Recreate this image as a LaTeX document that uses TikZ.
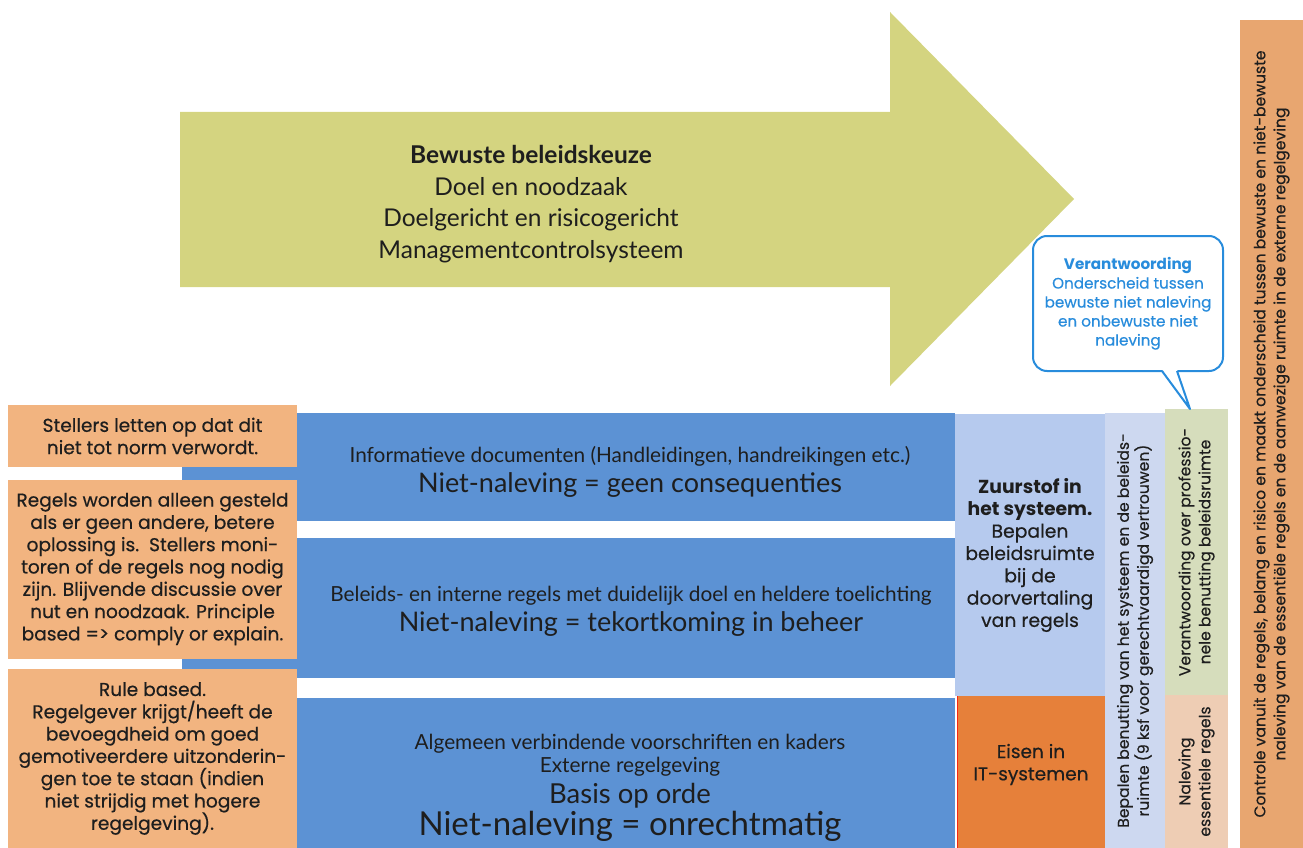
\documentclass[tikz,border=0pt]{standalone}
\usepackage{fontspec}
\setmainfont{Poppins}[UprightFeatures={FakeBold=0.5}]
\newfontfamily\smalfont{Lato}
\usepackage{xcolor}
\usetikzlibrary{calc}

\definecolor{pijlgeel}{RGB}{212,212,128}
\definecolor{blauw}{RGB}{92,146,212}
\definecolor{lichtblauw}{RGB}{182,202,238}
\definecolor{lila}{RGB}{205,216,240}
\definecolor{lichtgroen}{RGB}{214,221,188}
\definecolor{perzik}{RGB}{238,205,180}
\definecolor{zand}{RGB}{242,180,128}
\definecolor{oranje}{RGB}{230,128,58}
\definecolor{tan}{RGB}{232,166,112}
\definecolor{wolkblauw}{RGB}{40,140,220}
\definecolor{inkt}{RGB}{30,30,30}

\newcommand{\kleinregel}{\fontsize{20.8}{30}\selectfont}
\newcommand{\grootregel}{\fontsize{27}{30}\selectfont}
\newcommand{\strak}{\lineskiplimit -50pt\relax}

\begin{document}
\begin{tikzpicture}[x=1pt, y=-1pt,
		blok/.style={rectangle, inner sep=0pt, outer sep=0pt, align=center, text=inkt},
		links/.style={blok, fill=zand, minimum width=289pt, font=\fontsize{18.6}{22.3}\selectfont\strak},
		rij/.style={blok, fill=blauw, minimum width=658pt},
		regels/.style={blok, font=\smalfont\fontsize{10}{30}\selectfont\strak},
		staand/.style={blok, rotate=90, font=\fontsize{15.6}{20}\selectfont}]
		% Canvas
		\useasboundingbox (0,0) rectangle (1303,848);
		
		% Big arrow
		\fill[pijlgeel] (180,112) -- (890,112) -- (890,12) -- (1074,199) -- (890,386) -- (890,287) -- (180,287) -- cycle;
		\node[blok, font=\smalfont\fontsize{24.5}{31.7}\selectfont\strak] (keuze) at (531,204)
		{\textbf{Bewuste beleidskeuze}\\Doel en noodzaak\\Doelgericht en risicogericht\\Managementcontrolsysteem};
		
		% Blue rows
		\node[rij, minimum height=108pt] (rij1) at (626,467) {};
		\node[rij, minimum height=140pt] (rij2) at (626,608) {};
		\node[rij, minimum height=170pt] (rij3) at (626,783) {};
		\fill[blauw] (182,413) rectangle (rij1.south west);
		\fill[blauw] (182,538) rectangle (rij2.south west);
		\fill[blauw] (182,698) rectangle (rij3.south west);
		\node[regels] (tekst1) at (630,472)
		{\kleinregel Informatieve documenten (Handleidingen, handreikingen etc.)\\
			\grootregel Niet-naleving = geen consequenties};
		\node[regels] (tekst2) at (631,611)
		{\kleinregel Beleids- en interne regels met duidelijk doel en heldere toelichting\\
			\grootregel Niet-naleving = tekortkoming in beheer};
		\node[regels, font=\smalfont\fontsize{10}{23}\selectfont\strak] (tekst3) at (630,788)
		{\kleinregel Algemeen verbindende voorschriften en kaders\\
			\kleinregel Externe regelgeving\\[8pt]
			\fontsize{27.5}{30}\selectfont Basis op orde\\[9pt]
			\fontsize{33}{30}\selectfont Niet-naleving = onrechtmatig};
		
		% Left notes
		\node[links, minimum height=62pt] (links1) at (152.5,436)
		{Stellers letten op dat dit\\niet tot norm verwordt.};
		\node[links, minimum height=179pt] (links2) at (152.5,569)
		{Regels worden alleen gesteld\\als er geen andere, betere\\oplossing is.\ \ Stellers moni-\\toren of de regels nog nodig\\zijn. Blijvende discussie over\\nut en noodzaak. Principle\\based => comply or explain.};
		\node[links, minimum height=180pt] (links3) at (152.5,758.5)
		{Rule based.\\Regelgever krijgt/heeft de\\bevoegdheid om goed\\gemotiveerdere uitzonderin-\\gen toe te staan (indien\\niet strijdig met hogere\\regelgeving).};
		
		% Middle column
		\node[blok, fill=oranje, draw=red!70!oranje, thin, minimum width=148pt, minimum height=167pt,
		font=\fontsize{18.5}{22.3}\selectfont] (eisen) at (1031,764.5)
		{Eisen in\\IT-systemen};
		\node[blok, fill=lichtblauw, minimum width=150pt, minimum height=282pt,
		font=\fontsize{18.8}{22.3}\selectfont\strak] (zuurstof) at (1030,555)
		{\textbf{Zuurstof in}\\\textbf{het systeem.}\\Bepalen\\beleidsruimte\\bij de\\doorvertaling\\van regels};
		
		% Upright columns
		\node[staand, fill=lila, minimum width=435pt, minimum height=60pt] (bepalen) at (1135,630.5)
		{Bepalen benutting van het systeem en de beleids-\\ruimte (9 ksf voor gerechtvaardigd vertrouwen)};
		\node[staand, fill=lichtgroen, minimum width=286pt, minimum height=63pt] (verantw) at (1196.5,552)
		{Verantwoording over professio-\\nele benutting beleidsruimte};
		\node[staand, fill=perzik, minimum width=153pt, minimum height=63pt] (naleving) at (1196.5,771.5)
		{Naleving\\essentiele regels};
		\node[staand, fill=tan, minimum width=828pt, minimum height=63pt] (controle) at (1271.5,434)
		{Controle vanuit de regels, belang en risico en maakt onderscheid tussen bewuste en niet-bewuste\\naleving van de essentiële regels en de aanwezige ruimte in de externe regelgeving};
		
		% Speech bubble
		\node[blok, fill=white, draw=wolkblauw, line width=2pt, rounded corners=14pt,
		minimum width=190pt, minimum height=135pt, text=wolkblauw,
		font=\fontsize{15.2}{19}\selectfont] (uitleg) at (1128,303.5)
		{\textbf{Verantwoording}\\Onderscheid tussen\\bewuste niet naleving\\en onbewuste niet\\naleving};
		\coordinate (punt) at (1190,409);
		\coordinate (voet1) at ($(uitleg.south)+(34,0)$);
		\coordinate (voet2) at ($(uitleg.south)+(49,0)$);
		\fill[white] ($(voet1)+(0,-1.5)$) -- (punt) -- ($(voet2)+(0,-1.5)$) -- cycle;
		\draw[wolkblauw, line width=2pt, line join=round] (voet1) -- (punt) -- (voet2);
	\end{tikzpicture}
\end{document}
